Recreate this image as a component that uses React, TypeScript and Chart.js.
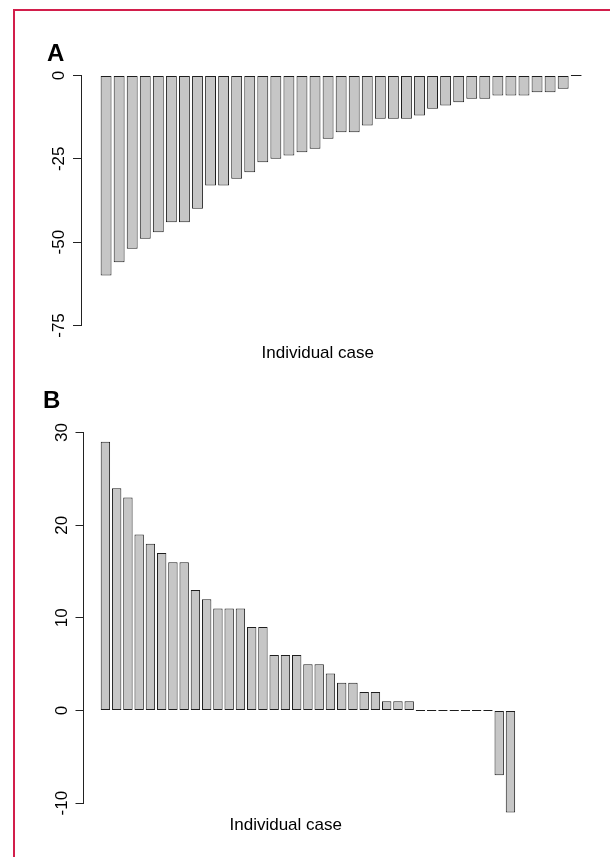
import React, { useEffect, useRef } from "react";
import { Chart, registerables } from "chart.js";

Chart.register(...registerables);

// ---- Data ----
const casesA: number[] = [1, 2, 3, 4, 5, 6, 7, 8, 9, 10, 11, 12, 13, 14, 15, 16, 17, 18, 19, 20, 21, 22, 23, 24, 25, 26, 27, 28, 29, 30, 31, 32, 33, 34, 35, 36, 37];
const valuesA: number[] = [-60, -56, -52, -49, -47, -44, -44, -40, -33, -33, -31, -29, -26, -25, -24, -23, -22, -19, -17, -17, -15, -13, -13, -13, -12, -10, -9, -8, -7, -7, -6, -6, -6, -5, -5, -4, 0];
const ticksA: number[] = [-75, -50, -25, 0];

const casesB: number[] = [1, 2, 3, 4, 5, 6, 7, 8, 9, 10, 11, 12, 13, 14, 15, 16, 17, 18, 19, 20, 21, 22, 23, 24, 25, 26, 27, 28, 29, 30, 31, 32, 33, 34, 35, 36, 37];
const valuesB: number[] = [29, 24, 23, 19, 18, 17, 16, 16, 13, 12, 11, 11, 11, 9, 9, 6, 6, 6, 5, 5, 4, 3, 3, 2, 2, 1, 1, 1, 0, 0, 0, 0, 0, 0, 0, -7, -11];
const ticksB: number[] = [-10, 0, 10, 20, 30];

const xTitle = "Individual case";
const FONT = "'Liberation Sans', Arial, Helvetica, sans-serif";

const axisLinePlugin = {
  id: "partialAxisLine",
  afterDraw(chart: any) {
    const y = chart.scales.y;
    if (!y || !y.ticks || !y.ticks.length) return;
    const vals = y.ticks.map((t: any) => t.value);
    const p1 = y.getPixelForValue(Math.min(...vals));
    const p2 = y.getPixelForValue(Math.max(...vals));
    const x = Math.round(y.right - 0.5) + 0.5;
    const ctx = chart.ctx;
    ctx.save();
    ctx.strokeStyle = "#222";
    ctx.lineWidth = 1;
    ctx.beginPath();
    ctx.moveTo(x, Math.round(p1 - 0.5) + 1);
    ctx.lineTo(x, Math.round(p2 - 0.5));
    ctx.stroke();
    ctx.restore();
  },
};

type PanelProps = {
  cases: number[];
  values: number[];
  ticks: number[];
  yMin: number;
  yMax: number;
  xMin: number;
  xMax: number;
  width: number;
  height: number;
  padding: { left: number; right: number; top: number; bottom: number };
};

function Panel(props: PanelProps) {
  const ref = useRef<HTMLCanvasElement | null>(null);
  useEffect(() => {
    if (!ref.current) return;
    const { cases, values, ticks } = props;
    const chart = new Chart(ref.current, {
      type: "bar",
      data: {
        datasets: [
          {
            data: cases.map((c, i) => ({ x: c, y: values[i] })),
            backgroundColor: "#c6c6c6",
            borderColor: "#1e1e1e",
            borderWidth: 1,
            borderSkipped: false,
            minBarLength: 1,
            barPercentage: 1 / 1.2,
            categoryPercentage: 1,
          } as any,
        ],
      },
      options: {
        animation: false,
        responsive: false,
        devicePixelRatio: 1,
        layout: { padding: props.padding },
        plugins: {
          legend: { display: false },
          tooltip: { enabled: false },
          title: { display: false },
        },
        scales: {
          x: {
            type: "linear",
            display: false,
            offset: false,
            min: props.xMin,
            max: props.xMax,
          },
          y: {
            type: "linear",
            min: props.yMin,
            max: props.yMax,
            afterBuildTicks: (scale: any) => {
              scale.ticks = ticks.map((v) => ({ value: v }));
            },
            afterFit: (scale: any) => {
              scale.width = 40;
            },
            border: { display: false },
            grid: {
              display: true,
              drawOnChartArea: false,
              drawTicks: true,
              tickLength: 8,
              color: "#222",
              lineWidth: 1,
            },
            ticks: {
              minRotation: 90,
              maxRotation: 90,
              crossAlign: "center",
              padding: 1,
              color: "#000",
              font: { family: FONT, size: 17 },
            },
          },
        },
      } as any,
      plugins: [axisLinePlugin],
    });
    return () => chart.destroy();
  }, []);
  return (
    <canvas
      ref={ref}
      width={props.width}
      height={props.height}
      style={{ display: "block", width: props.width, height: props.height }}
    />
  );
}

const letterStyle: React.CSSProperties = {
  position: "absolute",
  fontFamily: FONT,
  fontWeight: "bold",
  fontSize: 24,
  lineHeight: "24px",
  color: "#000",
  margin: 0,
};

const xTitleStyle: React.CSSProperties = {
  position: "absolute",
  fontFamily: FONT,
  fontSize: 17,
  lineHeight: "17px",
  color: "#000",
  whiteSpace: "nowrap",
  margin: 0,
};

export default function App() {
  return (
    <div
      style={{
        position: "absolute",
        left: 0,
        top: 0,
        width: 610,
        height: 857,
        overflow: "hidden",
        background: "#fff",
      }}
    >
      <div
        style={{
          position: "absolute",
          left: 13,
          top: 9,
          width: 700,
          height: 1000,
          borderLeft: "2px solid #d21e4b",
          borderTop: "2px solid #d21e4b",
        }}
      />
      <div style={{ position: "absolute", left: 0, top: 0 }}>
        <Panel
          cases={casesA}
          values={valuesA}
          ticks={ticksA}
          yMin={-78}
          yMax={3}
          xMin={-0.92}
          xMax={38.92}
          width={610}
          height={380}
          padding={{ left: 41, right: 8.7, top: 65.5, bottom: 44.5 }}
        />
      </div>
      <div style={{ position: "absolute", left: 0, top: 380 }}>
        <Panel
          cases={casesB}
          values={valuesB}
          ticks={ticksB}
          yMin={-12.6}
          yMax={30.6}
          xMin={-0.947}
          xMax={38.95}
          width={610}
          height={477}
          padding={{ left: 43.5, right: 77.6, top: 47.04, bottom: 29.8 }}
        />
      </div>
      <div style={{ ...letterStyle, left: 47, top: 41 }}>A</div>
      <div style={{ ...letterStyle, left: 43, top: 388 }}>B</div>
      <div style={{ ...xTitleStyle, left: 261.5, top: 344 }}>{xTitle}</div>
      <div style={{ ...xTitleStyle, left: 229.5, top: 816 }}>{xTitle}</div>
    </div>
  );
}
